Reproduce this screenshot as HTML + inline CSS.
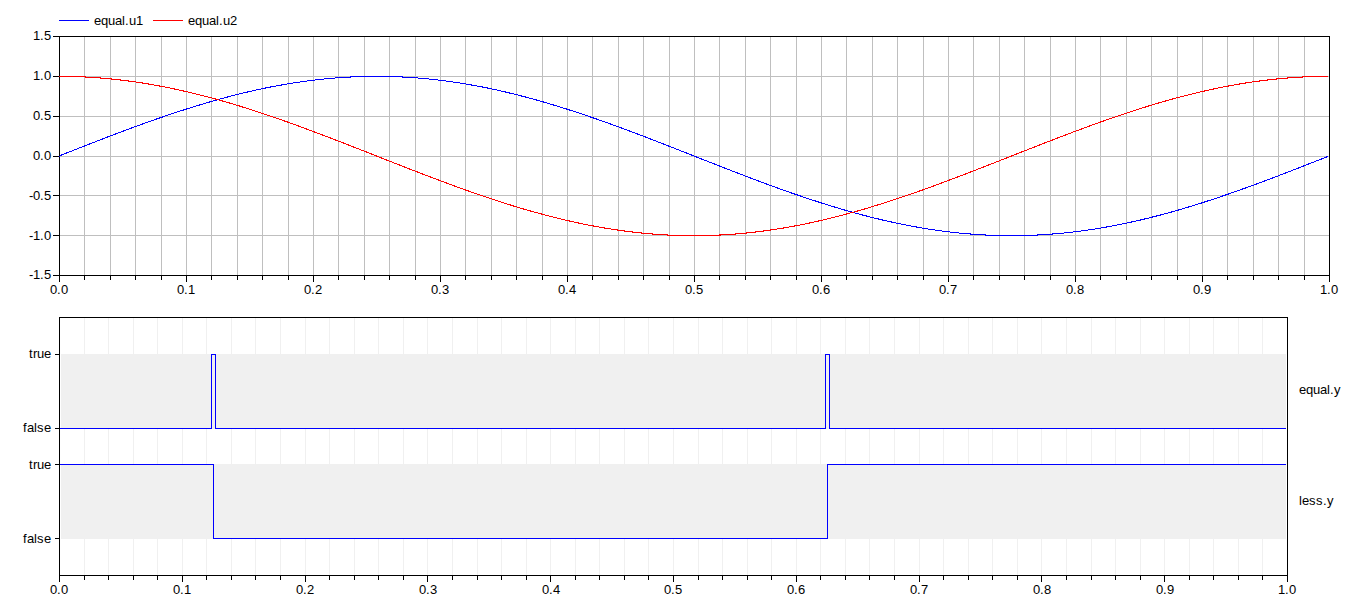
<!DOCTYPE html><html><head><meta charset="utf-8"><title>plot</title><style>html,body{margin:0;padding:0;background:#fff}svg{display:block}text{font-family:"Liberation Sans",sans-serif;font-size:13px;fill:#000}</style></head><body>
<svg width="1354" height="600" viewBox="0 0 1354 600">
<rect width="1354" height="600" fill="#fff"/>
<g shape-rendering="crispEdges">
<rect x="84" y="37" width="1" height="238" fill="#bfbfbf"/>
<rect x="110" y="37" width="1" height="238" fill="#bfbfbf"/>
<rect x="135" y="37" width="1" height="238" fill="#bfbfbf"/>
<rect x="161" y="37" width="1" height="238" fill="#bfbfbf"/>
<rect x="186" y="37" width="1" height="238" fill="#bfbfbf"/>
<rect x="211" y="37" width="1" height="238" fill="#bfbfbf"/>
<rect x="237" y="37" width="1" height="238" fill="#bfbfbf"/>
<rect x="262" y="37" width="1" height="238" fill="#bfbfbf"/>
<rect x="288" y="37" width="1" height="238" fill="#bfbfbf"/>
<rect x="313" y="37" width="1" height="238" fill="#bfbfbf"/>
<rect x="338" y="37" width="1" height="238" fill="#bfbfbf"/>
<rect x="364" y="37" width="1" height="238" fill="#bfbfbf"/>
<rect x="389" y="37" width="1" height="238" fill="#bfbfbf"/>
<rect x="415" y="37" width="1" height="238" fill="#bfbfbf"/>
<rect x="440" y="37" width="1" height="238" fill="#bfbfbf"/>
<rect x="465" y="37" width="1" height="238" fill="#bfbfbf"/>
<rect x="491" y="37" width="1" height="238" fill="#bfbfbf"/>
<rect x="516" y="37" width="1" height="238" fill="#bfbfbf"/>
<rect x="542" y="37" width="1" height="238" fill="#bfbfbf"/>
<rect x="567" y="37" width="1" height="238" fill="#bfbfbf"/>
<rect x="592" y="37" width="1" height="238" fill="#bfbfbf"/>
<rect x="618" y="37" width="1" height="238" fill="#bfbfbf"/>
<rect x="643" y="37" width="1" height="238" fill="#bfbfbf"/>
<rect x="669" y="37" width="1" height="238" fill="#bfbfbf"/>
<rect x="694" y="37" width="1" height="238" fill="#bfbfbf"/>
<rect x="719" y="37" width="1" height="238" fill="#bfbfbf"/>
<rect x="745" y="37" width="1" height="238" fill="#bfbfbf"/>
<rect x="770" y="37" width="1" height="238" fill="#bfbfbf"/>
<rect x="796" y="37" width="1" height="238" fill="#bfbfbf"/>
<rect x="821" y="37" width="1" height="238" fill="#bfbfbf"/>
<rect x="846" y="37" width="1" height="238" fill="#bfbfbf"/>
<rect x="872" y="37" width="1" height="238" fill="#bfbfbf"/>
<rect x="897" y="37" width="1" height="238" fill="#bfbfbf"/>
<rect x="923" y="37" width="1" height="238" fill="#bfbfbf"/>
<rect x="948" y="37" width="1" height="238" fill="#bfbfbf"/>
<rect x="973" y="37" width="1" height="238" fill="#bfbfbf"/>
<rect x="999" y="37" width="1" height="238" fill="#bfbfbf"/>
<rect x="1024" y="37" width="1" height="238" fill="#bfbfbf"/>
<rect x="1050" y="37" width="1" height="238" fill="#bfbfbf"/>
<rect x="1075" y="37" width="1" height="238" fill="#bfbfbf"/>
<rect x="1100" y="37" width="1" height="238" fill="#bfbfbf"/>
<rect x="1126" y="37" width="1" height="238" fill="#bfbfbf"/>
<rect x="1151" y="37" width="1" height="238" fill="#bfbfbf"/>
<rect x="1177" y="37" width="1" height="238" fill="#bfbfbf"/>
<rect x="1202" y="37" width="1" height="238" fill="#bfbfbf"/>
<rect x="1227" y="37" width="1" height="238" fill="#bfbfbf"/>
<rect x="1253" y="37" width="1" height="238" fill="#bfbfbf"/>
<rect x="1278" y="37" width="1" height="238" fill="#bfbfbf"/>
<rect x="1304" y="37" width="1" height="238" fill="#bfbfbf"/>
<rect x="60" y="76" width="1269" height="1" fill="#bfbfbf"/>
<rect x="60" y="116" width="1269" height="1" fill="#bfbfbf"/>
<rect x="60" y="156" width="1269" height="1" fill="#bfbfbf"/>
<rect x="60" y="195" width="1269" height="1" fill="#bfbfbf"/>
<rect x="60" y="235" width="1269" height="1" fill="#bfbfbf"/>
<rect x="59" y="36" width="1271" height="1" fill="#000"/>
<rect x="59" y="275" width="1271" height="1" fill="#000"/>
<rect x="59" y="36" width="1" height="240" fill="#000"/>
<rect x="1329" y="36" width="1" height="240" fill="#000"/>
<clipPath id="c1"><rect x="60" y="30" width="1268" height="250"/></clipPath>
<rect x="59" y="156" width="1" height="1" fill="#0000ff"/><rect x="59" y="76" width="1" height="1" fill="#ff0000"/>
<polyline clip-path="url(#c1)" points="59.00,156.00 61.54,155.00 64.08,154.00 66.62,153.00 69.16,152.00 71.70,151.00 74.24,150.00 76.78,149.00 79.32,148.00 81.86,147.01 84.40,146.02 86.94,145.02 89.48,144.03 92.02,143.04 94.56,142.06 97.10,141.07 99.64,140.09 102.18,139.11 104.72,138.13 107.26,137.16 109.80,136.19 112.34,135.22 114.88,134.25 117.42,133.29 119.96,132.34 122.50,131.38 125.04,130.43 127.58,129.49 130.12,128.54 132.66,127.61 135.20,126.67 137.74,125.74 140.28,124.82 142.82,123.90 145.36,122.99 147.90,122.08 150.44,121.18 152.98,120.28 155.52,119.39 158.06,118.50 160.60,117.62 163.14,116.75 165.68,115.88 168.22,115.02 170.76,114.16 173.30,113.31 175.84,112.47 178.38,111.64 180.92,110.81 183.46,109.99 186.00,109.17 188.54,108.37 191.08,107.57 193.62,106.78 196.16,105.99 198.70,105.22 201.24,104.45 203.78,103.69 206.32,102.94 208.86,102.20 211.40,101.46 213.94,100.74 216.48,100.02 219.02,99.31 221.56,98.62 224.10,97.93 226.64,97.24 229.18,96.57 231.72,95.91 234.26,95.26 236.80,94.62 239.34,93.98 241.88,93.36 244.42,92.75 246.96,92.14 249.50,91.55 252.04,90.96 254.58,90.39 257.12,89.83 259.66,89.28 262.20,88.74 264.74,88.20 267.28,87.68 269.82,87.17 272.36,86.68 274.90,86.19 277.44,85.71 279.98,85.25 282.52,84.79 285.06,84.35 287.60,83.92 290.14,83.49 292.68,83.09 295.22,82.69 297.76,82.30 300.30,81.93 302.84,81.57 305.38,81.21 307.92,80.88 310.46,80.55 313.00,80.23 315.54,79.93 318.08,79.64 320.62,79.36 323.16,79.09 325.70,78.84 328.24,78.59 330.78,78.36 333.32,78.14 335.86,77.94 338.40,77.74 340.94,77.56 343.48,77.39 346.02,77.24 348.56,77.09 351.10,76.96 353.64,76.84 356.18,76.74 358.72,76.64 361.26,76.56 363.80,76.49 366.34,76.43 368.88,76.39 371.42,76.36 373.96,76.34 376.50,76.33 379.04,76.34 381.58,76.36 384.12,76.39 386.66,76.43 389.20,76.49 391.74,76.56 394.28,76.64 396.82,76.74 399.36,76.84 401.90,76.96 404.44,77.09 406.98,77.24 409.52,77.39 412.06,77.56 414.60,77.74 417.14,77.94 419.68,78.14 422.22,78.36 424.76,78.59 427.30,78.84 429.84,79.09 432.38,79.36 434.92,79.64 437.46,79.93 440.00,80.23 442.54,80.55 445.08,80.88 447.62,81.21 450.16,81.57 452.70,81.93 455.24,82.30 457.78,82.69 460.32,83.09 462.86,83.49 465.40,83.92 467.94,84.35 470.48,84.79 473.02,85.25 475.56,85.71 478.10,86.19 480.64,86.68 483.18,87.17 485.72,87.68 488.26,88.20 490.80,88.74 493.34,89.28 495.88,89.83 498.42,90.39 500.96,90.96 503.50,91.55 506.04,92.14 508.58,92.75 511.12,93.36 513.66,93.98 516.20,94.62 518.74,95.26 521.28,95.91 523.82,96.57 526.36,97.24 528.90,97.93 531.44,98.62 533.98,99.31 536.52,100.02 539.06,100.74 541.60,101.46 544.14,102.20 546.68,102.94 549.22,103.69 551.76,104.45 554.30,105.22 556.84,105.99 559.38,106.78 561.92,107.57 564.46,108.37 567.00,109.17 569.54,109.99 572.08,110.81 574.62,111.64 577.16,112.47 579.70,113.31 582.24,114.16 584.78,115.02 587.32,115.88 589.86,116.75 592.40,117.62 594.94,118.50 597.48,119.39 600.02,120.28 602.56,121.18 605.10,122.08 607.64,122.99 610.18,123.90 612.72,124.82 615.26,125.74 617.80,126.67 620.34,127.61 622.88,128.54 625.42,129.49 627.96,130.43 630.50,131.38 633.04,132.34 635.58,133.29 638.12,134.25 640.66,135.22 643.20,136.19 645.74,137.16 648.28,138.13 650.82,139.11 653.36,140.09 655.90,141.07 658.44,142.06 660.98,143.04 663.52,144.03 666.06,145.02 668.60,146.02 671.14,147.01 673.68,148.00 676.22,149.00 678.76,150.00 681.30,151.00 683.84,152.00 686.38,153.00 688.92,154.00 691.46,155.00 694.00,156.00 696.54,157.00 699.08,158.00 701.62,159.00 704.16,160.00 706.70,161.00 709.24,162.00 711.78,163.00 714.32,164.00 716.86,164.99 719.40,165.98 721.94,166.98 724.48,167.97 727.02,168.96 729.56,169.94 732.10,170.93 734.64,171.91 737.18,172.89 739.72,173.87 742.26,174.84 744.80,175.81 747.34,176.78 749.88,177.75 752.42,178.71 754.96,179.66 757.50,180.62 760.04,181.57 762.58,182.51 765.12,183.46 767.66,184.39 770.20,185.33 772.74,186.26 775.28,187.18 777.82,188.10 780.36,189.01 782.90,189.92 785.44,190.82 787.98,191.72 790.52,192.61 793.06,193.50 795.60,194.38 798.14,195.25 800.68,196.12 803.22,196.98 805.76,197.84 808.30,198.69 810.84,199.53 813.38,200.36 815.92,201.19 818.46,202.01 821.00,202.83 823.54,203.63 826.08,204.43 828.62,205.22 831.16,206.01 833.70,206.78 836.24,207.55 838.78,208.31 841.32,209.06 843.86,209.80 846.40,210.54 848.94,211.26 851.48,211.98 854.02,212.69 856.56,213.38 859.10,214.07 861.64,214.76 864.18,215.43 866.72,216.09 869.26,216.74 871.80,217.38 874.34,218.02 876.88,218.64 879.42,219.25 881.96,219.86 884.50,220.45 887.04,221.04 889.58,221.61 892.12,222.17 894.66,222.72 897.20,223.26 899.74,223.80 902.28,224.32 904.82,224.83 907.36,225.32 909.90,225.81 912.44,226.29 914.98,226.75 917.52,227.21 920.06,227.65 922.60,228.08 925.14,228.51 927.68,228.91 930.22,229.31 932.76,229.70 935.30,230.07 937.84,230.43 940.38,230.79 942.92,231.12 945.46,231.45 948.00,231.77 950.54,232.07 953.08,232.36 955.62,232.64 958.16,232.91 960.70,233.16 963.24,233.41 965.78,233.64 968.32,233.86 970.86,234.06 973.40,234.26 975.94,234.44 978.48,234.61 981.02,234.76 983.56,234.91 986.10,235.04 988.64,235.16 991.18,235.26 993.72,235.36 996.26,235.44 998.80,235.51 1001.34,235.57 1003.88,235.61 1006.42,235.64 1008.96,235.66 1011.50,235.67 1014.04,235.66 1016.58,235.64 1019.12,235.61 1021.66,235.57 1024.20,235.51 1026.74,235.44 1029.28,235.36 1031.82,235.26 1034.36,235.16 1036.90,235.04 1039.44,234.91 1041.98,234.76 1044.52,234.61 1047.06,234.44 1049.60,234.26 1052.14,234.06 1054.68,233.86 1057.22,233.64 1059.76,233.41 1062.30,233.16 1064.84,232.91 1067.38,232.64 1069.92,232.36 1072.46,232.07 1075.00,231.77 1077.54,231.45 1080.08,231.12 1082.62,230.79 1085.16,230.43 1087.70,230.07 1090.24,229.70 1092.78,229.31 1095.32,228.91 1097.86,228.51 1100.40,228.08 1102.94,227.65 1105.48,227.21 1108.02,226.75 1110.56,226.29 1113.10,225.81 1115.64,225.32 1118.18,224.83 1120.72,224.32 1123.26,223.80 1125.80,223.26 1128.34,222.72 1130.88,222.17 1133.42,221.61 1135.96,221.04 1138.50,220.45 1141.04,219.86 1143.58,219.25 1146.12,218.64 1148.66,218.02 1151.20,217.38 1153.74,216.74 1156.28,216.09 1158.82,215.43 1161.36,214.76 1163.90,214.07 1166.44,213.38 1168.98,212.69 1171.52,211.98 1174.06,211.26 1176.60,210.54 1179.14,209.80 1181.68,209.06 1184.22,208.31 1186.76,207.55 1189.30,206.78 1191.84,206.01 1194.38,205.22 1196.92,204.43 1199.46,203.63 1202.00,202.83 1204.54,202.01 1207.08,201.19 1209.62,200.36 1212.16,199.53 1214.70,198.69 1217.24,197.84 1219.78,196.98 1222.32,196.12 1224.86,195.25 1227.40,194.38 1229.94,193.50 1232.48,192.61 1235.02,191.72 1237.56,190.82 1240.10,189.92 1242.64,189.01 1245.18,188.10 1247.72,187.18 1250.26,186.26 1252.80,185.33 1255.34,184.39 1257.88,183.46 1260.42,182.51 1262.96,181.57 1265.50,180.62 1268.04,179.66 1270.58,178.71 1273.12,177.75 1275.66,176.78 1278.20,175.81 1280.74,174.84 1283.28,173.87 1285.82,172.89 1288.36,171.91 1290.90,170.93 1293.44,169.94 1295.98,168.96 1298.52,167.97 1301.06,166.98 1303.60,165.98 1306.14,164.99 1308.68,164.00 1311.22,163.00 1313.76,162.00 1316.30,161.00 1318.84,160.00 1321.38,159.00 1323.92,158.00 1326.46,157.00 1329.00,156.00" fill="none" stroke="#0000ff" stroke-width="1.05"/>
<polyline clip-path="url(#c1)" points="59.00,76.33 61.54,76.34 64.08,76.36 66.62,76.39 69.16,76.43 71.70,76.49 74.24,76.56 76.78,76.64 79.32,76.74 81.86,76.84 84.40,76.96 86.94,77.09 89.48,77.24 92.02,77.39 94.56,77.56 97.10,77.74 99.64,77.94 102.18,78.14 104.72,78.36 107.26,78.59 109.80,78.84 112.34,79.09 114.88,79.36 117.42,79.64 119.96,79.93 122.50,80.23 125.04,80.55 127.58,80.88 130.12,81.21 132.66,81.57 135.20,81.93 137.74,82.30 140.28,82.69 142.82,83.09 145.36,83.49 147.90,83.92 150.44,84.35 152.98,84.79 155.52,85.25 158.06,85.71 160.60,86.19 163.14,86.68 165.68,87.17 168.22,87.68 170.76,88.20 173.30,88.74 175.84,89.28 178.38,89.83 180.92,90.39 183.46,90.96 186.00,91.55 188.54,92.14 191.08,92.75 193.62,93.36 196.16,93.98 198.70,94.62 201.24,95.26 203.78,95.91 206.32,96.57 208.86,97.24 211.40,97.93 213.94,98.62 216.48,99.31 219.02,100.02 221.56,100.74 224.10,101.46 226.64,102.20 229.18,102.94 231.72,103.69 234.26,104.45 236.80,105.22 239.34,105.99 241.88,106.78 244.42,107.57 246.96,108.37 249.50,109.17 252.04,109.99 254.58,110.81 257.12,111.64 259.66,112.47 262.20,113.31 264.74,114.16 267.28,115.02 269.82,115.88 272.36,116.75 274.90,117.62 277.44,118.50 279.98,119.39 282.52,120.28 285.06,121.18 287.60,122.08 290.14,122.99 292.68,123.90 295.22,124.82 297.76,125.74 300.30,126.67 302.84,127.61 305.38,128.54 307.92,129.49 310.46,130.43 313.00,131.38 315.54,132.34 318.08,133.29 320.62,134.25 323.16,135.22 325.70,136.19 328.24,137.16 330.78,138.13 333.32,139.11 335.86,140.09 338.40,141.07 340.94,142.06 343.48,143.04 346.02,144.03 348.56,145.02 351.10,146.02 353.64,147.01 356.18,148.00 358.72,149.00 361.26,150.00 363.80,151.00 366.34,152.00 368.88,153.00 371.42,154.00 373.96,155.00 376.50,156.00 379.04,157.00 381.58,158.00 384.12,159.00 386.66,160.00 389.20,161.00 391.74,162.00 394.28,163.00 396.82,164.00 399.36,164.99 401.90,165.98 404.44,166.98 406.98,167.97 409.52,168.96 412.06,169.94 414.60,170.93 417.14,171.91 419.68,172.89 422.22,173.87 424.76,174.84 427.30,175.81 429.84,176.78 432.38,177.75 434.92,178.71 437.46,179.66 440.00,180.62 442.54,181.57 445.08,182.51 447.62,183.46 450.16,184.39 452.70,185.33 455.24,186.26 457.78,187.18 460.32,188.10 462.86,189.01 465.40,189.92 467.94,190.82 470.48,191.72 473.02,192.61 475.56,193.50 478.10,194.38 480.64,195.25 483.18,196.12 485.72,196.98 488.26,197.84 490.80,198.69 493.34,199.53 495.88,200.36 498.42,201.19 500.96,202.01 503.50,202.83 506.04,203.63 508.58,204.43 511.12,205.22 513.66,206.01 516.20,206.78 518.74,207.55 521.28,208.31 523.82,209.06 526.36,209.80 528.90,210.54 531.44,211.26 533.98,211.98 536.52,212.69 539.06,213.38 541.60,214.07 544.14,214.76 546.68,215.43 549.22,216.09 551.76,216.74 554.30,217.38 556.84,218.02 559.38,218.64 561.92,219.25 564.46,219.86 567.00,220.45 569.54,221.04 572.08,221.61 574.62,222.17 577.16,222.72 579.70,223.26 582.24,223.80 584.78,224.32 587.32,224.83 589.86,225.32 592.40,225.81 594.94,226.29 597.48,226.75 600.02,227.21 602.56,227.65 605.10,228.08 607.64,228.51 610.18,228.91 612.72,229.31 615.26,229.70 617.80,230.07 620.34,230.43 622.88,230.79 625.42,231.12 627.96,231.45 630.50,231.77 633.04,232.07 635.58,232.36 638.12,232.64 640.66,232.91 643.20,233.16 645.74,233.41 648.28,233.64 650.82,233.86 653.36,234.06 655.90,234.26 658.44,234.44 660.98,234.61 663.52,234.76 666.06,234.91 668.60,235.04 671.14,235.16 673.68,235.26 676.22,235.36 678.76,235.44 681.30,235.51 683.84,235.57 686.38,235.61 688.92,235.64 691.46,235.66 694.00,235.67 696.54,235.66 699.08,235.64 701.62,235.61 704.16,235.57 706.70,235.51 709.24,235.44 711.78,235.36 714.32,235.26 716.86,235.16 719.40,235.04 721.94,234.91 724.48,234.76 727.02,234.61 729.56,234.44 732.10,234.26 734.64,234.06 737.18,233.86 739.72,233.64 742.26,233.41 744.80,233.16 747.34,232.91 749.88,232.64 752.42,232.36 754.96,232.07 757.50,231.77 760.04,231.45 762.58,231.12 765.12,230.79 767.66,230.43 770.20,230.07 772.74,229.70 775.28,229.31 777.82,228.91 780.36,228.51 782.90,228.08 785.44,227.65 787.98,227.21 790.52,226.75 793.06,226.29 795.60,225.81 798.14,225.32 800.68,224.83 803.22,224.32 805.76,223.80 808.30,223.26 810.84,222.72 813.38,222.17 815.92,221.61 818.46,221.04 821.00,220.45 823.54,219.86 826.08,219.25 828.62,218.64 831.16,218.02 833.70,217.38 836.24,216.74 838.78,216.09 841.32,215.43 843.86,214.76 846.40,214.07 848.94,213.38 851.48,212.69 854.02,211.98 856.56,211.26 859.10,210.54 861.64,209.80 864.18,209.06 866.72,208.31 869.26,207.55 871.80,206.78 874.34,206.01 876.88,205.22 879.42,204.43 881.96,203.63 884.50,202.83 887.04,202.01 889.58,201.19 892.12,200.36 894.66,199.53 897.20,198.69 899.74,197.84 902.28,196.98 904.82,196.12 907.36,195.25 909.90,194.38 912.44,193.50 914.98,192.61 917.52,191.72 920.06,190.82 922.60,189.92 925.14,189.01 927.68,188.10 930.22,187.18 932.76,186.26 935.30,185.33 937.84,184.39 940.38,183.46 942.92,182.51 945.46,181.57 948.00,180.62 950.54,179.66 953.08,178.71 955.62,177.75 958.16,176.78 960.70,175.81 963.24,174.84 965.78,173.87 968.32,172.89 970.86,171.91 973.40,170.93 975.94,169.94 978.48,168.96 981.02,167.97 983.56,166.98 986.10,165.98 988.64,164.99 991.18,164.00 993.72,163.00 996.26,162.00 998.80,161.00 1001.34,160.00 1003.88,159.00 1006.42,158.00 1008.96,157.00 1011.50,156.00 1014.04,155.00 1016.58,154.00 1019.12,153.00 1021.66,152.00 1024.20,151.00 1026.74,150.00 1029.28,149.00 1031.82,148.00 1034.36,147.01 1036.90,146.02 1039.44,145.02 1041.98,144.03 1044.52,143.04 1047.06,142.06 1049.60,141.07 1052.14,140.09 1054.68,139.11 1057.22,138.13 1059.76,137.16 1062.30,136.19 1064.84,135.22 1067.38,134.25 1069.92,133.29 1072.46,132.34 1075.00,131.38 1077.54,130.43 1080.08,129.49 1082.62,128.54 1085.16,127.61 1087.70,126.67 1090.24,125.74 1092.78,124.82 1095.32,123.90 1097.86,122.99 1100.40,122.08 1102.94,121.18 1105.48,120.28 1108.02,119.39 1110.56,118.50 1113.10,117.62 1115.64,116.75 1118.18,115.88 1120.72,115.02 1123.26,114.16 1125.80,113.31 1128.34,112.47 1130.88,111.64 1133.42,110.81 1135.96,109.99 1138.50,109.17 1141.04,108.37 1143.58,107.57 1146.12,106.78 1148.66,105.99 1151.20,105.22 1153.74,104.45 1156.28,103.69 1158.82,102.94 1161.36,102.20 1163.90,101.46 1166.44,100.74 1168.98,100.02 1171.52,99.31 1174.06,98.62 1176.60,97.93 1179.14,97.24 1181.68,96.57 1184.22,95.91 1186.76,95.26 1189.30,94.62 1191.84,93.98 1194.38,93.36 1196.92,92.75 1199.46,92.14 1202.00,91.55 1204.54,90.96 1207.08,90.39 1209.62,89.83 1212.16,89.28 1214.70,88.74 1217.24,88.20 1219.78,87.68 1222.32,87.17 1224.86,86.68 1227.40,86.19 1229.94,85.71 1232.48,85.25 1235.02,84.79 1237.56,84.35 1240.10,83.92 1242.64,83.49 1245.18,83.09 1247.72,82.69 1250.26,82.30 1252.80,81.93 1255.34,81.57 1257.88,81.21 1260.42,80.88 1262.96,80.55 1265.50,80.23 1268.04,79.93 1270.58,79.64 1273.12,79.36 1275.66,79.09 1278.20,78.84 1280.74,78.59 1283.28,78.36 1285.82,78.14 1288.36,77.94 1290.90,77.74 1293.44,77.56 1295.98,77.39 1298.52,77.24 1301.06,77.09 1303.60,76.96 1306.14,76.84 1308.68,76.74 1311.22,76.64 1313.76,76.56 1316.30,76.49 1318.84,76.43 1321.38,76.39 1323.92,76.36 1326.46,76.34 1329.00,76.33" fill="none" stroke="#ff0000" stroke-width="1.05"/>
<rect x="53" y="36" width="6" height="1" fill="#000"/>
<rect x="53" y="76" width="6" height="1" fill="#000"/>
<rect x="53" y="116" width="6" height="1" fill="#000"/>
<rect x="53" y="156" width="6" height="1" fill="#000"/>
<rect x="53" y="195" width="6" height="1" fill="#000"/>
<rect x="53" y="235" width="6" height="1" fill="#000"/>
<rect x="53" y="275" width="6" height="1" fill="#000"/>
<rect x="59" y="276" width="1" height="6" fill="#000"/>
<rect x="84" y="276" width="1" height="4" fill="#000"/>
<rect x="110" y="276" width="1" height="4" fill="#000"/>
<rect x="135" y="276" width="1" height="4" fill="#000"/>
<rect x="161" y="276" width="1" height="4" fill="#000"/>
<rect x="186" y="276" width="1" height="6" fill="#000"/>
<rect x="211" y="276" width="1" height="4" fill="#000"/>
<rect x="237" y="276" width="1" height="4" fill="#000"/>
<rect x="262" y="276" width="1" height="4" fill="#000"/>
<rect x="288" y="276" width="1" height="4" fill="#000"/>
<rect x="313" y="276" width="1" height="6" fill="#000"/>
<rect x="338" y="276" width="1" height="4" fill="#000"/>
<rect x="364" y="276" width="1" height="4" fill="#000"/>
<rect x="389" y="276" width="1" height="4" fill="#000"/>
<rect x="415" y="276" width="1" height="4" fill="#000"/>
<rect x="440" y="276" width="1" height="6" fill="#000"/>
<rect x="465" y="276" width="1" height="4" fill="#000"/>
<rect x="491" y="276" width="1" height="4" fill="#000"/>
<rect x="516" y="276" width="1" height="4" fill="#000"/>
<rect x="542" y="276" width="1" height="4" fill="#000"/>
<rect x="567" y="276" width="1" height="6" fill="#000"/>
<rect x="592" y="276" width="1" height="4" fill="#000"/>
<rect x="618" y="276" width="1" height="4" fill="#000"/>
<rect x="643" y="276" width="1" height="4" fill="#000"/>
<rect x="669" y="276" width="1" height="4" fill="#000"/>
<rect x="694" y="276" width="1" height="6" fill="#000"/>
<rect x="719" y="276" width="1" height="4" fill="#000"/>
<rect x="745" y="276" width="1" height="4" fill="#000"/>
<rect x="770" y="276" width="1" height="4" fill="#000"/>
<rect x="796" y="276" width="1" height="4" fill="#000"/>
<rect x="821" y="276" width="1" height="6" fill="#000"/>
<rect x="846" y="276" width="1" height="4" fill="#000"/>
<rect x="872" y="276" width="1" height="4" fill="#000"/>
<rect x="897" y="276" width="1" height="4" fill="#000"/>
<rect x="923" y="276" width="1" height="4" fill="#000"/>
<rect x="948" y="276" width="1" height="6" fill="#000"/>
<rect x="973" y="276" width="1" height="4" fill="#000"/>
<rect x="999" y="276" width="1" height="4" fill="#000"/>
<rect x="1024" y="276" width="1" height="4" fill="#000"/>
<rect x="1050" y="276" width="1" height="4" fill="#000"/>
<rect x="1075" y="276" width="1" height="6" fill="#000"/>
<rect x="1100" y="276" width="1" height="4" fill="#000"/>
<rect x="1126" y="276" width="1" height="4" fill="#000"/>
<rect x="1151" y="276" width="1" height="4" fill="#000"/>
<rect x="1177" y="276" width="1" height="4" fill="#000"/>
<rect x="1202" y="276" width="1" height="6" fill="#000"/>
<rect x="1227" y="276" width="1" height="4" fill="#000"/>
<rect x="1253" y="276" width="1" height="4" fill="#000"/>
<rect x="1278" y="276" width="1" height="4" fill="#000"/>
<rect x="1304" y="276" width="1" height="4" fill="#000"/>
<rect x="1329" y="276" width="1" height="6" fill="#000"/>
<rect x="59" y="20" width="30" height="1" fill="#0000ff"/>
<rect x="153" y="20" width="30" height="1" fill="#ff0000"/>
</g>
<text x="33 40 44" y="40">1.5</text>
<text x="33 40 44" y="80">1.0</text>
<text x="33 40 44" y="120">0.5</text>
<text x="33 40 44" y="160">0.0</text>
<text x="29 33 40 44" y="200">-0.5</text>
<text x="29 33 40 44" y="240">-1.0</text>
<text x="29 33 40 44" y="279">-1.5</text>
<text x="50 57 61" y="294">0.0</text>
<text x="177 184 188" y="294">0.1</text>
<text x="304 311 315" y="294">0.2</text>
<text x="431 438 442" y="294">0.3</text>
<text x="558 565 569" y="294">0.4</text>
<text x="685 692 696" y="294">0.5</text>
<text x="812 819 823" y="294">0.6</text>
<text x="939 946 950" y="294">0.7</text>
<text x="1066 1073 1077" y="294">0.8</text>
<text x="1193 1200 1204" y="294">0.9</text>
<text x="1320 1327 1331" y="294">1.0</text>
<text x="94 101 108 115 122 125 129 136" y="25">equal.u1</text>
<text x="188 195 202 209 216 219 223 230" y="25">equal.u2</text>
<g shape-rendering="crispEdges">
<rect x="84" y="318" width="1" height="257" fill="#f0f0f0"/>
<rect x="108" y="318" width="1" height="257" fill="#f0f0f0"/>
<rect x="133" y="318" width="1" height="257" fill="#f0f0f0"/>
<rect x="157" y="318" width="1" height="257" fill="#f0f0f0"/>
<rect x="182" y="318" width="1" height="257" fill="#f0f0f0"/>
<rect x="206" y="318" width="1" height="257" fill="#f0f0f0"/>
<rect x="231" y="318" width="1" height="257" fill="#f0f0f0"/>
<rect x="255" y="318" width="1" height="257" fill="#f0f0f0"/>
<rect x="280" y="318" width="1" height="257" fill="#f0f0f0"/>
<rect x="305" y="318" width="1" height="257" fill="#f0f0f0"/>
<rect x="329" y="318" width="1" height="257" fill="#f0f0f0"/>
<rect x="354" y="318" width="1" height="257" fill="#f0f0f0"/>
<rect x="378" y="318" width="1" height="257" fill="#f0f0f0"/>
<rect x="403" y="318" width="1" height="257" fill="#f0f0f0"/>
<rect x="427" y="318" width="1" height="257" fill="#f0f0f0"/>
<rect x="452" y="318" width="1" height="257" fill="#f0f0f0"/>
<rect x="477" y="318" width="1" height="257" fill="#f0f0f0"/>
<rect x="501" y="318" width="1" height="257" fill="#f0f0f0"/>
<rect x="526" y="318" width="1" height="257" fill="#f0f0f0"/>
<rect x="550" y="318" width="1" height="257" fill="#f0f0f0"/>
<rect x="575" y="318" width="1" height="257" fill="#f0f0f0"/>
<rect x="599" y="318" width="1" height="257" fill="#f0f0f0"/>
<rect x="624" y="318" width="1" height="257" fill="#f0f0f0"/>
<rect x="648" y="318" width="1" height="257" fill="#f0f0f0"/>
<rect x="673" y="318" width="1" height="257" fill="#f0f0f0"/>
<rect x="698" y="318" width="1" height="257" fill="#f0f0f0"/>
<rect x="722" y="318" width="1" height="257" fill="#f0f0f0"/>
<rect x="747" y="318" width="1" height="257" fill="#f0f0f0"/>
<rect x="771" y="318" width="1" height="257" fill="#f0f0f0"/>
<rect x="796" y="318" width="1" height="257" fill="#f0f0f0"/>
<rect x="820" y="318" width="1" height="257" fill="#f0f0f0"/>
<rect x="845" y="318" width="1" height="257" fill="#f0f0f0"/>
<rect x="869" y="318" width="1" height="257" fill="#f0f0f0"/>
<rect x="894" y="318" width="1" height="257" fill="#f0f0f0"/>
<rect x="919" y="318" width="1" height="257" fill="#f0f0f0"/>
<rect x="943" y="318" width="1" height="257" fill="#f0f0f0"/>
<rect x="968" y="318" width="1" height="257" fill="#f0f0f0"/>
<rect x="992" y="318" width="1" height="257" fill="#f0f0f0"/>
<rect x="1017" y="318" width="1" height="257" fill="#f0f0f0"/>
<rect x="1041" y="318" width="1" height="257" fill="#f0f0f0"/>
<rect x="1066" y="318" width="1" height="257" fill="#f0f0f0"/>
<rect x="1091" y="318" width="1" height="257" fill="#f0f0f0"/>
<rect x="1115" y="318" width="1" height="257" fill="#f0f0f0"/>
<rect x="1140" y="318" width="1" height="257" fill="#f0f0f0"/>
<rect x="1164" y="318" width="1" height="257" fill="#f0f0f0"/>
<rect x="1189" y="318" width="1" height="257" fill="#f0f0f0"/>
<rect x="1213" y="318" width="1" height="257" fill="#f0f0f0"/>
<rect x="1238" y="318" width="1" height="257" fill="#f0f0f0"/>
<rect x="1262" y="318" width="1" height="257" fill="#f0f0f0"/>
<rect x="61" y="354" width="1225" height="75" fill="#f0f0f0"/>
<rect x="61" y="464" width="1225" height="75" fill="#f0f0f0"/>
<path d="M60,428.5 H211.5 V354.5 H215.5 V428.5 H825.5 V354.5 H829.5 V428.5 H1286" fill="none" stroke="#0000ff" stroke-width="1"/>
<path d="M60,464.5 H213.5 V538.5 H827.5 V464.5 H1286" fill="none" stroke="#0000ff" stroke-width="1"/>
<rect x="59" y="317" width="1229" height="1" fill="#000"/>
<rect x="59" y="575" width="1229" height="1" fill="#000"/>
<rect x="59" y="317" width="1" height="259" fill="#000"/>
<rect x="1287" y="317" width="1" height="259" fill="#000"/>
<rect x="55" y="354" width="4" height="1" fill="#000"/>
<rect x="55" y="428" width="4" height="1" fill="#000"/>
<rect x="55" y="464" width="4" height="1" fill="#000"/>
<rect x="55" y="538" width="4" height="1" fill="#000"/>
<rect x="59" y="576" width="1" height="6" fill="#000"/>
<rect x="84" y="576" width="1" height="4" fill="#000"/>
<rect x="108" y="576" width="1" height="4" fill="#000"/>
<rect x="133" y="576" width="1" height="4" fill="#000"/>
<rect x="157" y="576" width="1" height="4" fill="#000"/>
<rect x="182" y="576" width="1" height="6" fill="#000"/>
<rect x="206" y="576" width="1" height="4" fill="#000"/>
<rect x="231" y="576" width="1" height="4" fill="#000"/>
<rect x="255" y="576" width="1" height="4" fill="#000"/>
<rect x="280" y="576" width="1" height="4" fill="#000"/>
<rect x="305" y="576" width="1" height="6" fill="#000"/>
<rect x="329" y="576" width="1" height="4" fill="#000"/>
<rect x="354" y="576" width="1" height="4" fill="#000"/>
<rect x="378" y="576" width="1" height="4" fill="#000"/>
<rect x="403" y="576" width="1" height="4" fill="#000"/>
<rect x="427" y="576" width="1" height="6" fill="#000"/>
<rect x="452" y="576" width="1" height="4" fill="#000"/>
<rect x="477" y="576" width="1" height="4" fill="#000"/>
<rect x="501" y="576" width="1" height="4" fill="#000"/>
<rect x="526" y="576" width="1" height="4" fill="#000"/>
<rect x="550" y="576" width="1" height="6" fill="#000"/>
<rect x="575" y="576" width="1" height="4" fill="#000"/>
<rect x="599" y="576" width="1" height="4" fill="#000"/>
<rect x="624" y="576" width="1" height="4" fill="#000"/>
<rect x="648" y="576" width="1" height="4" fill="#000"/>
<rect x="673" y="576" width="1" height="6" fill="#000"/>
<rect x="698" y="576" width="1" height="4" fill="#000"/>
<rect x="722" y="576" width="1" height="4" fill="#000"/>
<rect x="747" y="576" width="1" height="4" fill="#000"/>
<rect x="771" y="576" width="1" height="4" fill="#000"/>
<rect x="796" y="576" width="1" height="6" fill="#000"/>
<rect x="820" y="576" width="1" height="4" fill="#000"/>
<rect x="845" y="576" width="1" height="4" fill="#000"/>
<rect x="869" y="576" width="1" height="4" fill="#000"/>
<rect x="894" y="576" width="1" height="4" fill="#000"/>
<rect x="919" y="576" width="1" height="6" fill="#000"/>
<rect x="943" y="576" width="1" height="4" fill="#000"/>
<rect x="968" y="576" width="1" height="4" fill="#000"/>
<rect x="992" y="576" width="1" height="4" fill="#000"/>
<rect x="1017" y="576" width="1" height="4" fill="#000"/>
<rect x="1041" y="576" width="1" height="6" fill="#000"/>
<rect x="1066" y="576" width="1" height="4" fill="#000"/>
<rect x="1091" y="576" width="1" height="4" fill="#000"/>
<rect x="1115" y="576" width="1" height="4" fill="#000"/>
<rect x="1140" y="576" width="1" height="4" fill="#000"/>
<rect x="1164" y="576" width="1" height="6" fill="#000"/>
<rect x="1189" y="576" width="1" height="4" fill="#000"/>
<rect x="1213" y="576" width="1" height="4" fill="#000"/>
<rect x="1238" y="576" width="1" height="4" fill="#000"/>
<rect x="1262" y="576" width="1" height="4" fill="#000"/>
<rect x="1287" y="576" width="1" height="6" fill="#000"/>
</g>
<text x="29 33 37 44" y="358">true</text>
<text x="23 27 34 37 44" y="432">false</text>
<text x="29 33 37 44" y="469">true</text>
<text x="23 27 34 37 44" y="543">false</text>
<text x="50 57 61" y="594">0.0</text>
<text x="173 180 184" y="594">0.1</text>
<text x="296 303 307" y="594">0.2</text>
<text x="419 426 430" y="594">0.3</text>
<text x="542 549 553" y="594">0.4</text>
<text x="664 671 675" y="594">0.5</text>
<text x="787 794 798" y="594">0.6</text>
<text x="910 917 921" y="594">0.7</text>
<text x="1033 1040 1044" y="594">0.8</text>
<text x="1156 1163 1167" y="594">0.9</text>
<text x="1278 1285 1289" y="594">1.0</text>
<text x="1299 1306 1313 1320 1327 1330 1334" y="394">equal.y</text>
<text x="1299 1302 1309 1316 1323 1327" y="505">less.y</text>
</svg></body></html>
